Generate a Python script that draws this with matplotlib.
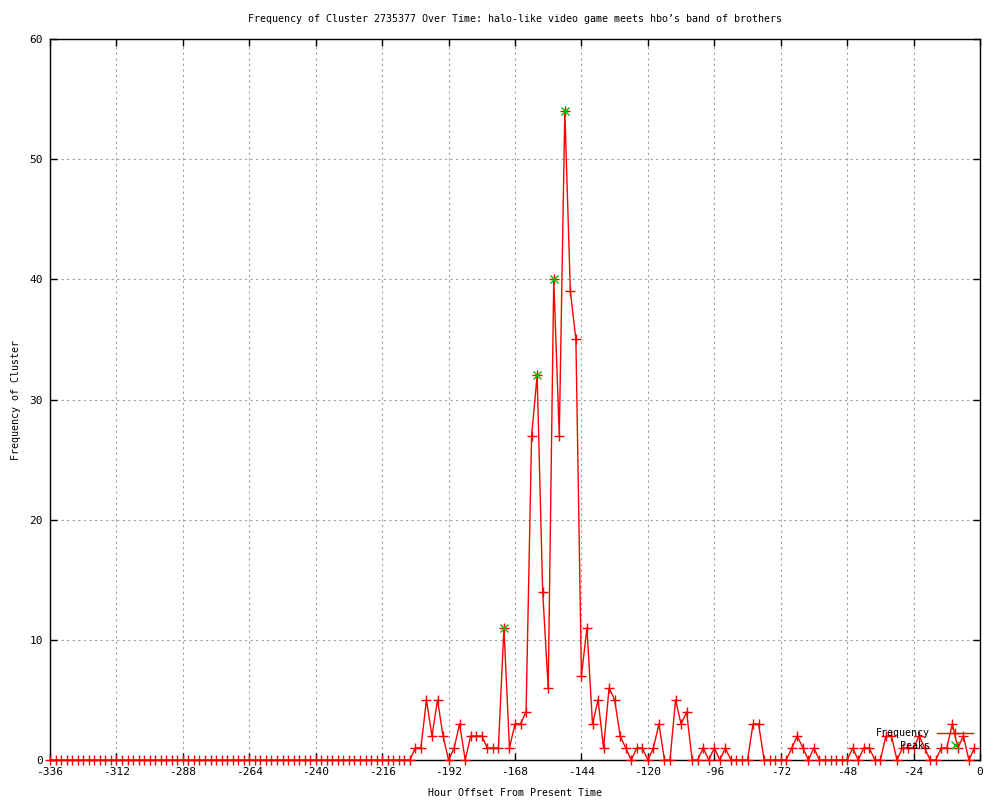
import numpy as np
import matplotlib.pyplot as plt

plt.rcParams['font.family'] = ['DejaVu Sans Mono']
plt.rcParams['axes.unicode_minus'] = False

# hour offsets, every 2 hours, from -336 to -2
hours = list(range(-336, 0, 2))

# counts from -336 to -206 are all zero
freq_tail = [1, 1, 5, 2, 5, 2, 0, 1, 3, 0, 2, 2, 2, 1, 1, 1,      # -204 .. -174
             11, 1, 3, 3, 4, 27, 32, 14, 6, 40, 27, 54, 39, 35,    # -172 .. -146
             7, 11, 3, 5, 1, 6, 5, 2, 1, 0, 1, 1, 0, 1, 3, 0,      # -144 .. -114
             0, 5, 3, 4, 0, 0, 1, 0, 1, 0, 1, 0, 0, 0, 0, 3,       # -112 .. -82
             3, 0, 0, 0, 0, 0, 1, 2, 1, 0, 1, 0, 0, 0, 0, 0,       # -80 .. -50
             0, 1, 0, 1, 1, 0, 0, 2, 2, 0, 1, 1, 1, 2, 1, 0,       # -48 .. -18
             0, 1, 1, 3, 1, 2, 0, 1]                               # -16 .. -2
freq = [0] * (len(hours) - len(freq_tail)) + freq_tail

peak_hours = [-172, -160, -154, -150]
peak_vals = [11, 32, 40, 54]

title = "Frequency of Cluster 2735377 Over Time: halo-like video game meets hbo\u2019s band of brothers"

fig = plt.figure(figsize=(10, 8), dpi=100)
ax = fig.add_axes([0.05, 0.05, 0.93, 0.90125])

ax.plot(hours, freq, color='#ff0000', lw=1, marker='+', ms=7, mew=1,
        label='Frequency', clip_on=False, zorder=3)
ax.plot(peak_hours, peak_vals, ls='none', color='#00c000', marker='x', ms=6,
        mew=1, label='Peaks', zorder=4)

ax.set_xlim(-336, 0)
ax.set_ylim(0, 60)
ax.set_xticks(range(-336, 1, 24))
ax.set_yticks(range(0, 61, 10))
ax.tick_params(direction='in', top=True, right=True, length=5, width=1,
               labelsize=8, pad=5)
ax.grid(True, color='#a0a0a0', ls=(0, (2, 3)), lw=0.8)
for s in ax.spines.values():
    s.set_linewidth(1)

ax.set_title(title, fontsize=7.2, pad=12)
ax.set_xlabel('Hour Offset From Present Time', fontsize=7.2, labelpad=8)
ax.set_ylabel('Frequency of Cluster', fontsize=7.2, labelpad=6)

ax.legend(loc='lower right', bbox_to_anchor=(0.998, 0.006), frameon=False,
          markerfirst=False, fontsize=7.2, handlelength=3.6, handletextpad=0.7,
          labelspacing=0.25, borderpad=0)

plt.savefig('out.png', dpi=100)
